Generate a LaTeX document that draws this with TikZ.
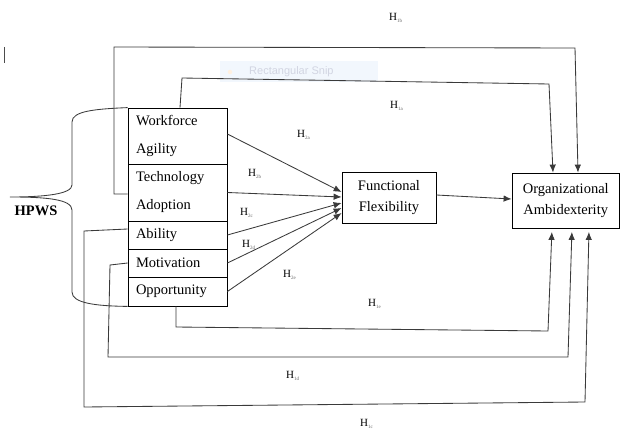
\documentclass[tikz,border=0pt]{standalone}
\usepackage{fontspec}
\setmainfont{Liberation Serif}
\newfontfamily\snipfont{Liberation Sans}
\usetikzlibrary{arrows.meta}
\definecolor{conn}{HTML}{3A3A3A}
\definecolor{snipbg}{HTML}{F2F7FD}
\definecolor{sniptx}{HTML}{D2D5E2}
\newcommand\hyp[1]{H\raisebox{-1.2pt}{\color{black!60}\fontsize{5}{6}\selectfont #1}}
\tikzset{
  cell/.style={draw=black, line width=0.8pt, minimum width=99pt, inner xsep=8pt, inner ysep=0pt,
    text width=83pt, align=left, font=\fontsize{14.5}{28}\selectfont},
  mainbox/.style={draw=black, line width=0.8pt, inner sep=0pt, align=center,
    font=\fontsize{14.5}{21}\selectfont},
  conline/.style={draw=conn, line width=0.85pt},
  arr/.style={conline, -{Latex[length=8pt,width=6.5pt]}},
  hlab/.style={anchor=west, inner sep=0pt, font=\fontsize{11}{12}\selectfont}
}
\begin{document}
\begin{tikzpicture}[x=1pt,y=-1pt]
\useasboundingbox (0,0) rectangle (620,428);
% screenshot artefacts
\fill[snipbg] (220,61) rectangle (378,82);
\node[circle, fill=orange!12, inner sep=1.6pt] (snipdot) at (230,72) {};
\node[anchor=west, inner sep=0pt, text=sniptx, font=\snipfont\fontsize{11}{12}\selectfont] (sniptext) at (249,72) {Rectangular Snip};
\draw[black!70, line width=0.8pt] (4,47) -- (4,63);
% cells
\node[cell, minimum height=56pt] (wa) at (177.5,136) {Workforce\\Agility};
\node[cell, minimum height=57pt] (ta) at (177.5,192.5) {Technology\\Adoption};
\node[cell, minimum height=28pt] (ab) at (177.5,235) {Ability};
\node[cell, minimum height=28pt] (mo) at (177.5,263) {Motivation};
\node[cell, minimum height=29pt] (op) at (177.5,291.5) {Opportunity};
\node[mainbox, minimum width=94pt, minimum height=51pt] (ff) at (389,197.5) {Functional\\Flexibility};
\node[mainbox, minimum width=107.5pt, minimum height=55pt] (oa) at (565.75,200.5) {Organizational\\Ambidexterity};
% brace
\draw[conline] (wa.north west) .. controls (95,109) and (72,111) .. (72,122) -- (72,185)
  .. controls (72,194) and (45,197) .. (10,197)
  .. controls (45,197) and (72,199) .. (72,210) -- (72,292)
  .. controls (72,303) and (95,306) .. (op.south west);
\node[inner sep=0pt, font=\bfseries\fontsize{14.5}{16}\selectfont] (hpws) at (36,211) {HPWS};
% arrows into FF
\draw[arr] ([yshift=2pt]wa.east) -- ([yshift=5.5pt]ff.west);
\draw[arr] (ta.east) -- ([yshift=0.5pt]ff.west);
\draw[arr] (ab.east) -- ([yshift=-5.5pt]ff.west);
\draw[arr] (mo.east) -- ([yshift=-10.5pt]ff.west);
\draw[arr] (op.east) -- ([yshift=-15.5pt]ff.west);
\draw[arr] ([yshift=2.5pt]ff.east) -- ([yshift=1.5pt]oa.west);
% H1b
\draw[arr] ([yshift=-1.5pt]ta.west) -- (114,194) -- (114,47) -- (575,48) -- ([xshift=12.25pt]oa.north);
% H1a
\draw[arr] ([xshift=2.5pt]wa.north) -- (182,78) -- (549,84) -- ([xshift=-12.75pt]oa.north);
% H1e
\draw[arr, shorten >=3.5pt] ([xshift=-1.5pt]op.south) -- (176,327) -- (548,331) -- ([xshift=-13.75pt]oa.south);
% H1d
\draw[arr, shorten >=3.5pt] (mo.west) -- (110,265) -- (108,357) -- (568,357) -- ([xshift=6.25pt]oa.south);
% H1c
\draw[arr, shorten >=3.5pt] ([yshift=6pt]ab.west) -- (84,231) -- (84,407) -- (585,402) -- ([xshift=23.25pt]oa.south);
% labels
\node[hlab] (l1b) at (389,18) {\hyp{1b}};
\node[hlab] (l1a) at (390,106) {\hyp{1a}};
\node[hlab] (l2a) at (297,135) {\hyp{2a}};
\node[hlab] (l2b) at (248,174) {\hyp{2b}};
\node[hlab] (l2c) at (240,213) {\hyp{2c}};
\node[hlab] (l2d) at (242,245) {\hyp{2d}};
\node[hlab] (l2e) at (283,275) {\hyp{2e}};
\node[hlab] (l1e) at (368,304) {\hyp{1e}};
\node[hlab] (l1d) at (286,376) {\hyp{1d}};
\node[hlab] (l1c) at (360,424) {\hyp{1c}};
\end{tikzpicture}
\end{document}
